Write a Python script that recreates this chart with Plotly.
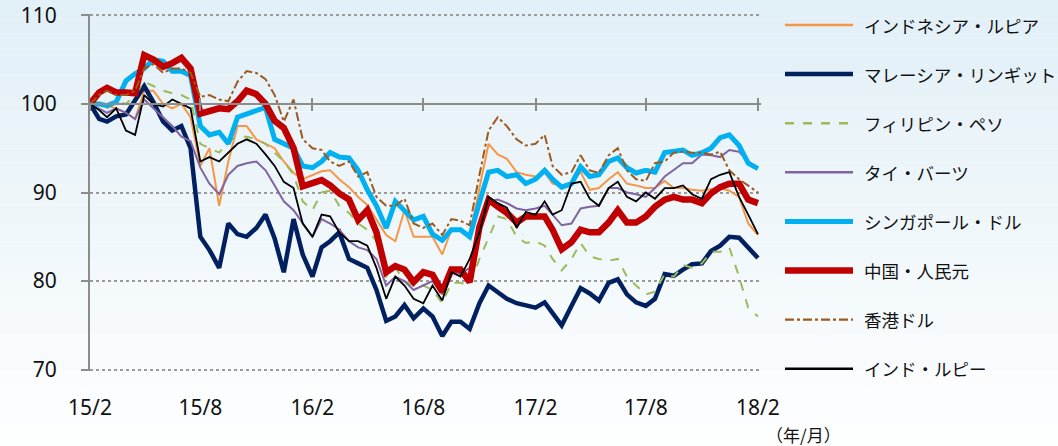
import plotly.graph_objects as go

# half-month sample dates, 2015/2 .. 2018/2
dates = []
for yr in range(2015, 2019):
    for mo in range(1, 13):
        if (yr, mo) < (2015, 2) or (yr, mo) > (2018, 2):
            continue
        dates.append(f"{yr}-{mo:02d}-01")
        if (yr, mo) != (2018, 2):
            dates.append(f"{yr}-{mo:02d}-16")

tick_dates = ["2015-02-01", "2015-08-01", "2016-02-01", "2016-08-01",
              "2017-02-01", "2017-08-01", "2018-02-01"]
tick_text = ["15/2", "15/8", "16/2", "16/8", "17/2", "17/8", "18/2"]
y_ticks = [70, 80, 90, 100, 110]

idr = [100.0, 100.0, 99.8, 99.5, 99.0, 98.3, 101.5, 101.5, 100.0, 99.5,
       100.0, 98.5, 93.0, 95.0, 88.5, 93.5, 97.5, 97.5, 96.0, 95.5,
       95.0, 93.5, 92.2, 91.5, 92.0, 92.4, 92.5, 91.5, 90.6, 89.5,
       88.6, 87.0, 85.2, 84.5, 88.0, 85.0, 85.0, 85.0, 83.0, 85.8,
       85.8, 85.0, 90.5, 95.5, 94.3, 93.8, 92.3, 92.0, 91.8, 92.3,
       91.0, 90.8, 91.1, 92.3, 90.3, 90.5, 91.5, 92.3, 91.0, 90.8,
       90.5, 90.5, 91.3, 90.5, 90.5, 90.3, 90.2, 90.4, 90.5, 90.2,
       89.5, 86.5, 85.2]
myr = [100.0, 98.3, 98.0, 98.6, 98.8, 100.5, 102.0, 100.2, 98.0, 97.0,
       97.5, 95.0, 85.0, 83.5, 81.5, 86.5, 85.3, 85.0, 86.0, 87.5,
       84.8, 81.0, 87.0, 83.0, 80.5, 83.8, 84.5, 85.5, 82.5, 82.0,
       81.5, 79.0, 75.5, 76.0, 77.3, 75.8, 76.9, 76.0, 73.8, 75.4,
       75.4, 74.6, 77.5, 79.5, 78.8, 78.0, 77.5, 77.2, 77.0, 77.6,
       76.3, 75.0, 77.2, 79.2, 78.6, 77.8, 79.8, 80.2, 78.5, 77.6,
       77.2, 78.0, 80.8, 80.6, 81.3, 81.9, 82.0, 83.4, 84.0, 85.0,
       84.9, 83.8, 82.6]
php = [100.0, 100.0, 99.5, 100.3, 100.0, 101.0, 102.5, 102.0, 101.5, 101.2,
       101.0, 100.5, 95.5, 95.0, 94.5, 95.8, 96.3, 96.3, 96.0, 95.5,
       94.5, 93.5, 92.0, 89.0, 88.0, 90.0, 90.2, 88.5, 87.7, 86.5,
       85.8, 84.5, 80.5, 81.5, 80.0, 79.5, 79.5, 79.0, 77.5, 79.8,
       79.8, 79.5, 82.5, 85.0, 87.3, 87.0, 85.0, 84.3, 84.5, 84.0,
       82.5, 81.2, 82.5, 84.3, 82.8, 82.5, 82.3, 82.5, 80.5, 79.5,
       78.5, 78.8, 80.8, 80.5, 81.8, 81.5, 82.0, 83.3, 83.3, 83.8,
       80.5, 77.0, 76.0]
thb = [100.0, 99.5, 99.0, 99.5, 99.0, 98.3, 100.5, 99.5, 98.5, 97.5,
       96.3, 95.8, 92.8, 91.0, 89.8, 92.0, 93.0, 93.3, 93.5, 92.5,
       90.8, 89.0, 88.0, 86.5, 85.0, 87.0, 86.5, 85.8, 84.5, 83.8,
       83.5, 82.5, 79.5, 80.5, 80.0, 79.0, 79.5, 80.0, 78.5, 81.0,
       80.8, 81.5, 85.5, 89.0, 89.2, 88.8, 88.2, 88.0, 88.2, 88.5,
       87.5, 86.3, 86.5, 88.2, 88.4, 88.5, 90.5, 90.5, 90.0, 89.8,
       89.5, 90.5, 91.8, 92.5, 93.3, 93.3, 94.3, 94.2, 94.0, 94.8,
       94.6, 93.5, 92.8]
sgd = [100.0, 100.0, 99.8, 100.2, 102.6, 103.4, 104.0, 105.0, 104.8, 103.7,
       103.7, 103.2, 97.5, 96.5, 96.8, 95.5, 98.5, 98.9, 99.3, 99.6,
       96.0, 95.5, 95.0, 93.0, 92.8, 93.5, 94.5, 94.0, 93.9, 92.5,
       90.3, 88.5, 86.0, 89.0, 88.0, 86.9, 87.3, 85.3, 84.6, 85.8,
       85.8, 85.0, 88.9, 92.3, 92.5, 91.8, 92.0, 91.0, 91.5, 92.5,
       91.5, 90.6, 91.0, 92.9, 91.8, 92.0, 93.5, 93.9, 92.8, 92.2,
       92.5, 92.3, 94.5, 94.7, 94.8, 94.2, 94.5, 95.0, 96.2, 96.5,
       95.3, 93.3, 92.7]
cny = [100.0, 101.3, 101.8, 101.3, 101.3, 101.2, 105.5, 105.0, 104.2, 104.6,
       105.2, 104.0, 98.9, 99.2, 99.5, 99.4, 100.3, 101.5, 101.1, 100.0,
       98.1, 97.3, 95.0, 90.7, 91.1, 91.4, 90.8, 89.9, 89.2, 86.9,
       88.0, 85.5, 81.0, 81.7, 81.3, 79.9, 81.0, 80.7, 78.8, 81.3,
       81.3, 79.9, 86.1, 89.2, 88.4, 87.7, 86.6, 87.3, 87.3, 87.3,
       85.8, 83.6, 84.4, 85.8, 85.5, 85.5, 86.6, 88.0, 86.6, 86.6,
       87.3, 88.4, 89.2, 89.5, 89.2, 89.2, 88.8, 89.9, 90.6, 91.0,
       91.0, 89.2, 88.8]
hkd = [100.0, 101.0, 101.5, 101.0, 101.0, 101.5, 104.0, 104.5, 103.5, 104.0,
       104.0, 103.5, 100.8, 101.0, 100.5, 100.3, 102.5, 103.7, 103.5, 102.8,
       101.0, 98.0, 100.5, 96.0, 95.0, 94.8, 93.5, 93.0, 93.5, 91.8,
       92.3, 89.5, 88.5, 88.5, 89.3, 86.5, 86.0, 86.5, 85.2, 87.0,
       86.8, 86.3, 92.0, 97.0, 98.5, 97.5, 96.0, 95.3, 95.5, 96.5,
       93.0, 92.0, 92.3, 94.2, 92.5, 92.2, 94.2, 95.0, 92.5, 91.5,
       91.3, 93.3, 93.5, 94.5, 94.6, 94.5, 94.5, 94.3, 94.6, 92.5,
       91.5, 90.8, 90.0]
inr = [100.0, 99.3, 98.5, 99.5, 97.0, 96.5, 101.0, 100.0, 99.7, 100.5,
       100.0, 99.5, 93.5, 94.0, 93.5, 94.5, 95.5, 96.0, 95.5, 94.3,
       93.0, 91.2, 90.5, 86.5, 85.0, 87.5, 87.3, 85.5, 84.5, 84.5,
       84.0, 81.5, 78.0, 80.5, 79.5, 78.0, 77.5, 79.5, 77.8, 81.0,
       80.5, 82.5, 85.5, 89.5, 88.8, 88.3, 86.0, 87.8, 87.5, 89.0,
       87.5, 88.0, 91.0, 91.2, 89.3, 88.5, 90.5, 91.2, 89.5, 89.0,
       90.0, 89.3, 90.5, 90.5, 90.8, 89.8, 89.3, 91.5, 92.0, 92.3,
       89.5, 87.5, 85.3]

series = [
    ("インドネシア・ルピア", idr, "#F79646", 2.0, "solid"),
    ("マレーシア・リンギット", myr, "#002060", 4.5, "solid"),
    ("フィリピン・ペソ", php, "#9BBB59", 2.0, "dash"),
    ("タイ・バーツ", thb, "#8064A2", 2.0, "solid"),
    ("シンガポール・ドル", sgd, "#00B0F0", 5.0, "solid"),
    ("中国・人民元", cny, "#C00000", 6.5, "solid"),
    ("香港ドル", hkd, "#9C5A1E", 2.0, "dashdot"),
    ("インド・ルピー", inr, "#000000", 1.8, "solid"),
]

fig = go.Figure()
for name, vals, color, w, dash in series:
    fig.add_trace(go.Scatter(
        x=dates, y=vals, name=name, mode="lines",
        line=dict(color=color, width=w, dash=dash),
    ))

# dummy traces so the overlay axes (axis line at 100) are drawn
for ax in ["x2", "x3"]:
    fig.add_trace(go.Scatter(x=[dates[0]], y=[None], xaxis=ax, mode="lines",
                             showlegend=False, hoverinfo="skip"))

x_range = ["2015-02-01", "2018-02-06"]
y_range = [69.85, 110.15]
gray = "#8c8c8c"
pos100 = (100 - y_range[0]) / (y_range[1] - y_range[0])

W, H = 1058, 446
PW, PL, PR, PT, PB = 671, 90, 297, 14, 75
PH = H - PT - PB


def px_x(px):
    return (px - PL) / PW


def px_y(py):
    return (H - PB - py) / PH


# background gradient bands (behind plot area)
n = 24
shapes = []
for k in range(n):
    t = k / n
    r = int(226 + (255 - 226) * t)
    g = int(240 + (255 - 240) * t)
    b = int(247 + (255 - 247) * t)
    shapes.append(dict(type="rect", xref="paper", yref="paper",
                       x0=px_x(0), x1=px_x(W),
                       y0=px_y(H * (k + 1) / n), y1=px_y(H * k / n),
                       fillcolor=f"rgb({r},{g},{b})", line=dict(width=0),
                       layer="below"))

# legend drawn by hand (sample line + label)
annotations = []
for k, (name, vals, color, w, dash) in enumerate(series):
    cy = 25 + 49.1 * k
    lw = max(w, 2.4)
    shapes.append(dict(type="line", xref="paper", yref="paper",
                       x0=px_x(785), x1=px_x(853), y0=px_y(cy), y1=px_y(cy),
                       line=dict(color=color, width=lw, dash=dash)))
    annotations.append(dict(text=name, xref="paper", yref="paper",
                            x=px_x(862), y=px_y(cy), xanchor="left", yanchor="middle",
                            showarrow=False,
                            font=dict(family="Noto Sans CJK JP", size=17.5, color="#111111")))

annotations.append(dict(text="（年/月）", xref="paper", yref="paper",
                        x=px_x(764), y=px_y(434), xanchor="left", yanchor="middle",
                        showarrow=False,
                        font=dict(family="Noto Sans CJK JP", size=17, color="#111111")))

fig.update_layout(
    width=W, height=H,
    margin=dict(l=PL, r=PR, t=PT, b=PB, autoexpand=False),
    paper_bgcolor="white", plot_bgcolor="white",
    shapes=shapes, annotations=annotations,
    showlegend=False,
    xaxis=dict(type="date", range=x_range, tickvals=tick_dates, ticktext=tick_text,
               showgrid=False, showline=False, ticks="", zeroline=False,
               automargin=False,
               tickfont=dict(family="Noto Sans", size=21, color="#111111"),
               ticklabelstandoff=22),
    xaxis2=dict(type="date", range=x_range, overlaying="x", anchor="free",
                position=pos100, side="bottom", tickvals=tick_dates,
                showticklabels=False, showgrid=False, showline=True,
                linecolor=gray, linewidth=2, ticks="outside", ticklen=6,
                tickwidth=2, tickcolor=gray, zeroline=False, automargin=False),
    xaxis3=dict(type="date", range=x_range, overlaying="x", anchor="free",
                position=pos100, side="bottom", tickvals=tick_dates,
                showticklabels=False, showgrid=False, showline=False,
                ticks="inside", ticklen=6, tickwidth=2, tickcolor=gray,
                zeroline=False, automargin=False),
    yaxis=dict(range=y_range, tickvals=y_ticks, showgrid=True,
               gridcolor="#9a9a9a", griddash="dot", gridwidth=1.5,
               showline=True, linecolor=gray, linewidth=2, ticks="outside",
               ticklen=7, tickwidth=2, tickcolor=gray, zeroline=False,
               automargin=False,
               tickfont=dict(family="Noto Sans", size=21, color="#111111"),
               ticklabelstandoff=20, ticklabeloverflow="allow"),
)

fig.write_html("out.html")
